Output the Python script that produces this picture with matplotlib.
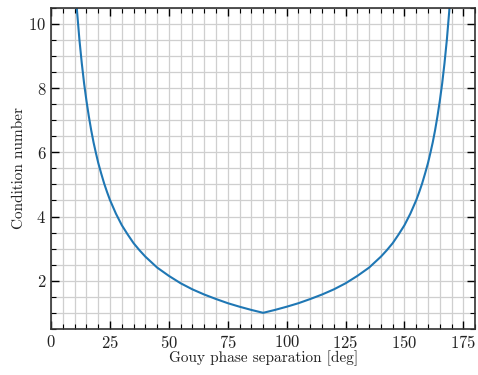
import numpy as np
import matplotlib
matplotlib.use('Agg')
import matplotlib.pyplot as plt
from matplotlib.ticker import MultipleLocator

#values
gouy_left = [8, 9, 10, 11, 12, 13, 14, 15, 16, 17, 18, 19, 20, 21.25, 22.5, 23.75, 25,
             27.5, 30, 32.5, 35, 37.5, 40, 45, 50, 55, 60, 65, 70, 75, 80, 85, 90]
cond_left = [14.30, 12.71, 11.43, 10.39, 9.51, 8.78, 8.14, 7.60, 7.12, 6.69, 6.31, 5.98,
             5.67, 5.34, 5.03, 4.76, 4.51, 4.09, 3.73, 3.44, 3.17, 2.95, 2.75, 2.41, 2.15,
             1.92, 1.73, 1.57, 1.43, 1.30, 1.19, 1.09, 1.00]
gouy_right = [95, 100, 105, 110, 115, 120, 125, 130, 135, 140, 142.5, 145, 147.5, 150,
              152.5, 155, 156.25, 157.5, 158.75, 160, 161, 162, 163, 164, 165, 166, 167,
              168, 169, 170, 171, 172]
cond_right = [1.09, 1.19, 1.30, 1.43, 1.57, 1.73, 1.92, 2.15, 2.41, 2.75, 2.95, 3.17,
              3.44, 3.73, 4.09, 4.51, 4.76, 5.03, 5.34, 5.67, 5.98, 6.31, 6.69, 7.12,
              7.60, 8.14, 8.78, 9.51, 10.39, 11.43, 12.71, 14.30]

gouy = gouy_left + gouy_right
cond = cond_left + cond_right

plt.rcParams['font.family'] = 'serif'
plt.rcParams['font.serif'] = ['cmr10']
plt.rcParams['mathtext.fontset'] = 'cm'
plt.rcParams['axes.formatter.use_mathtext'] = True

fig = plt.figure(figsize=(4.78, 3.75), dpi=100)
ax = fig.add_axes([0.107, 0.123, 0.887, 0.856])

ax.plot(gouy, cond, color='#1f77b4', lw=1.5)

ax.set_xlim(0, 180)
ax.set_ylim(0.5, 10.5)
ax.xaxis.set_major_locator(MultipleLocator(25))
ax.xaxis.set_minor_locator(MultipleLocator(5))
ax.yaxis.set_major_locator(MultipleLocator(2))
ax.yaxis.set_minor_locator(MultipleLocator(0.5))

ax.grid(which='both', color='#cfcfcf', lw=0.9)
ax.set_axisbelow(True)
ax.tick_params(which='both', direction='in', top=True, right=True, labelsize=12,
               labelcolor='#222222')
ax.tick_params(which='major', length=6, width=1)
ax.tick_params(which='minor', length=3.5, width=0.8)
for s in ax.spines.values():
    s.set_color('#333333')
    s.set_linewidth(1.2)

ax.set_xlabel('Gouy phase separation [deg]', fontsize=11, color='#222222', labelpad=0)
ax.set_ylabel('Condition number', fontsize=11, color='#222222', labelpad=2)

fig.savefig('out.png', dpi=100)
